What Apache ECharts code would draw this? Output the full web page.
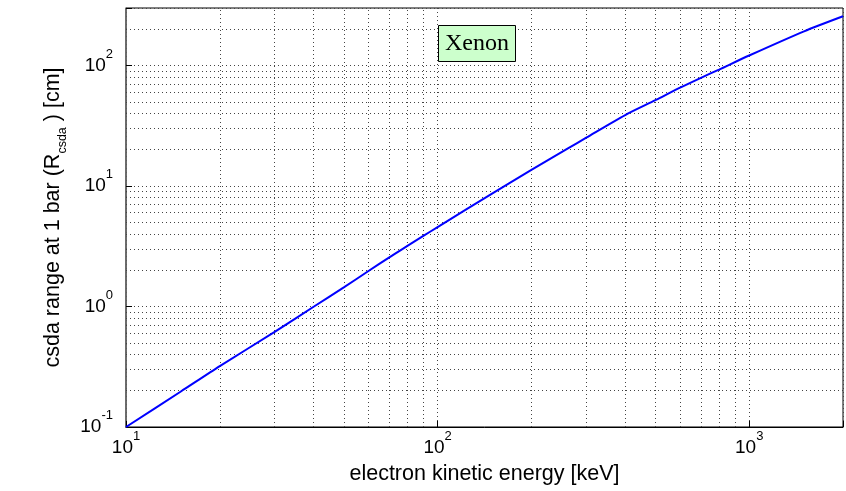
<!DOCTYPE html>
<html>
<head>
<meta charset="utf-8">
<script src="https://cdn.jsdelivr.net/npm/echarts@6/dist/echarts.min.js"></script>
<style>
html,body{margin:0;padding:0;background:#fff;}
#chart{width:846px;height:491px;}
</style>
</head>
<body>
<div id="chart"></div>
<script>
// Data
const energyKeV = [10, 15, 20, 30, 40, 50, 60, 70, 80, 90, 100, 150, 200, 262, 300, 400, 500, 600, 700, 800, 1000, 1500, 2000];
const csdaRangeCm = [0.1, 0.197, 0.32, 0.616, 0.995, 1.44, 1.97, 2.56, 3.18, 3.85, 4.56, 8.7, 13.6, 20.5, 25.2, 38.8, 51.5, 65.4, 79, 92.5, 121, 192, 256];
const xMajorTicks = [10, 100, 1000];
const yMajorTicks = [0.1, 1, 10, 100];
const xMinorGrid = [20, 30, 40, 50, 60, 70, 80, 90, 200, 300, 400, 500, 600, 700, 800, 900];
const yMinorGrid = [0.2, 0.3, 0.4, 0.5, 0.6, 0.7, 0.8, 0.9, 2, 3, 4, 5, 6, 7, 8, 9, 20, 30, 40, 50, 60, 70, 80, 90, 200];
const annotationText = 'Xenon';

const FONT = 'Arial, "Liberation Sans", sans-serif';
function isTick(v, list) {
  return list.some(t => Math.abs(Math.log10(v) - Math.log10(t)) < 1e-6);
}
function powLabel(list) {
  return function (v) {
    if (!isTick(v, list)) return '';
    const e = Math.round(Math.log10(v));
    return '{b|10}{s|' + e + '}';
  };
}
const powRich = {
  b: { fontSize: 19, lineHeight: 36, fontFamily: FONT, color: '#000' },
  s: { fontSize: 13, lineHeight: 13, fontFamily: FONT, color: '#000', verticalAlign: 'top' }
};
const gridLine = { color: '#444', width: 1, type: [1, 3] };

const chart = echarts.init(document.getElementById('chart'), null, { renderer: 'canvas' });
chart.setOption({
  animation: false,
  backgroundColor: '#fff',
  title: {
    text: annotationText,
    left: 438, top: 25,
    padding: [6, 7, 6, 7],
    backgroundColor: '#ccffcc',
    borderColor: '#000',
    borderWidth: 1,
    textStyle: { fontFamily: '"Liberation Serif", "Times New Roman", serif', fontSize: 24, fontWeight: 'normal', color: '#000', lineHeight: 25 }
  },
  grid: {
    left: 126, right: 0, top: 8, bottom: 64,
    show: true, borderColor: '#000', borderWidth: 1, backgroundColor: 'transparent'
  },
  xAxis: {
    type: 'log', logBase: 10, min: 10, max: 2000,
    name: 'electron kinetic energy [keV]',
    nameLocation: 'middle', nameGap: 36,
    nameTextStyle: { fontFamily: FONT, fontSize: 21.5, color: '#000' },
    axisLine: { show: true, lineStyle: { color: '#000', width: 1 } },
    axisTick: { show: true, inside: true, length: 6, lineStyle: { color: '#000' } },
    axisLabel: { formatter: powLabel(xMajorTicks), rich: powRich, margin: 3, showMinLabel: true, showMaxLabel: true },
    splitLine: { show: true, lineStyle: gridLine }
  },
  yAxis: {
    type: 'log', logBase: 10, min: 0.1, max: 300,
    name: '{a|csda range at 1 bar (R}{sub|csda}{a| ) [cm]}',
    nameLocation: 'middle', nameGap: 33,
    nameTextStyle: {
      fontFamily: FONT, fontSize: 21.5, color: '#000',
      rich: {
        a: { fontFamily: FONT, fontSize: 21.5, lineHeight: 21.5, color: '#000', verticalAlign: 'top' },
        sub: { fontFamily: FONT, fontSize: 12.5, lineHeight: 42, color: '#000' }
      }
    },
    axisLine: { show: true, lineStyle: { color: '#666', width: 1.5 } },
    axisTick: { show: true, inside: true, length: 6, lineStyle: { color: '#000' } },
    axisLabel: { formatter: powLabel(yMajorTicks), rich: powRich, margin: 13 },
    splitLine: { show: true, lineStyle: gridLine }
  },
  series: [{
    type: 'line',
    data: energyKeV.map((e, i) => [e, csdaRangeCm[i]]),
    showSymbol: false,
    smooth: 0.25,
    lineStyle: { color: '#0000ff', width: 2 },
    z: 5,
    markLine: {
      silent: true,
      symbol: ['none', 'none'],
      label: { show: false },
      lineStyle: gridLine,
      animation: false,
      data: xMinorGrid.map(v => ({ xAxis: v })).concat(yMinorGrid.map(v => ({ yAxis: v })))
    }
  }]
});
</script>
</body>
</html>
